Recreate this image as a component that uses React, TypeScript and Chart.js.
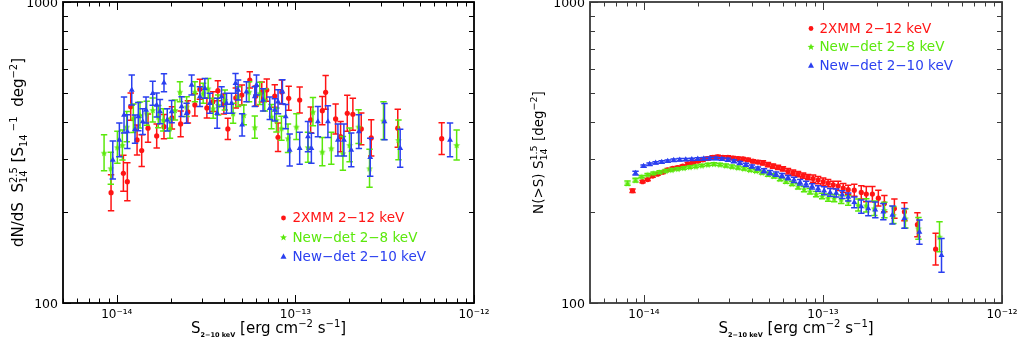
import React, { useEffect, useRef } from 'react';
import { Chart, registerables } from 'chart.js';

Chart.register(...registerables);

// ---------------- axes ----------------
const xMin = 5e-15;
const xMax = 1e-12;
const yMin = 100;
const yMax = 1000;
const xTickValues = [1e-14, 1e-13, 1e-12];
const xTickLabels = ['10⁻¹⁴', '10⁻¹³', '10⁻¹²'];
const yTickValues = [100, 1000];
const yTickLabels = ['100', '1000'];
const seriesLabels = ['2XMM 2−12 keV', 'New−det 2−8 keV', 'New−det 2−10 keV'];
const fluxUnit = 1e-14; // flux arrays are in units of 1e-14 erg cm^-2 s^-1

// ---------------- left panel: dN/dS S^2.5 ----------------
const diffRedFlux = [0.929, 1.089, 1.146, 1.197, 1.299, 1.379, 1.496, 1.673, 1.838, 2.037, 2.278, 2.502, 2.737, 2.920, 3.195, 3.451, 3.681, 3.977, 4.186, 4.640, 5.012, 5.555, 6.002, 6.484, 6.915, 7.665, 7.996, 8.386, 9.175, 10.57, 12.18, 14.15, 14.77, 16.80, 17.91, 19.52, 20.98, 23.38, 26.58, 37.43, 65.92];
const diffRedValue = [232.5, 269.8, 252.9, 449.1, 348.1, 320.8, 380.8, 358.9, 385.4, 411.9, 393.5, 431.3, 454.9, 512.8, 444.6, 466.5, 507.3, 458.4, 378.8, 479.9, 490.9, 550.7, 487.2, 502.3, 510.0, 487.2, 355.4, 502.3, 478.8, 472.6, 405.7, 435.6, 501.2, 408.8, 357.0, 427.0, 423.7, 378.8, 353.5, 380.8, 351.6];
const diffRedErr = [0.06, 0.06, 0.063, 0.045, 0.05, 0.053, 0.047, 0.04, 0.04, 0.037, 0.043, 0.037, 0.037, 0.033, 0.033, 0.033, 0.033, 0.033, 0.035, 0.033, 0.033, 0.027, 0.033, 0.033, 0.037, 0.037, 0.047, 0.04, 0.04, 0.043, 0.043, 0.047, 0.056, 0.05, 0.05, 0.06, 0.053, 0.053, 0.06, 0.063, 0.053];

const diffGreenFlux = [0.849, 0.926, 1.008, 1.075, 1.137, 1.238, 1.349, 1.471, 1.589, 1.708, 1.821, 1.986, 2.117, 2.258, 2.461, 2.737, 3.046, 3.249, 3.465, 3.695, 4.027, 4.481, 4.779, 5.142, 5.505, 5.925, 6.320, 6.739, 7.346, 7.834, 8.353, 9.093, 10.13, 11.76, 12.54, 14.15, 15.89, 18.45, 20.11, 22.58, 26.01, 31.14, 37.77, 79.96];
const diffGreenValue = [315.7, 280.3, 329.2, 335.0, 385.4, 411.0, 421.5, 427.0, 437.9, 416.0, 405.7, 380.8, 437.9, 503.5, 449.1, 503.5, 497.4, 516.7, 443.6, 454.9, 472.6, 427.0, 484.7, 421.5, 503.5, 383.7, 497.4, 472.6, 416.0, 405.7, 380.8, 352.7, 385.4, 329.2, 432.2, 318.3, 326.7, 314.3, 335.0, 385.4, 280.3, 403.5, 348.1, 335.0];
const diffGreenErr = [0.06, 0.053, 0.053, 0.05, 0.05, 0.047, 0.043, 0.04, 0.04, 0.037, 0.037, 0.033, 0.033, 0.033, 0.033, 0.033, 0.033, 0.033, 0.033, 0.033, 0.033, 0.033, 0.033, 0.033, 0.033, 0.037, 0.037, 0.037, 0.04, 0.04, 0.04, 0.047, 0.043, 0.05, 0.047, 0.047, 0.053, 0.056, 0.056, 0.056, 0.063, 0.063, 0.066, 0.05];

const diffBlueFlux = [0.950, 1.034, 1.098, 1.146, 1.213, 1.265, 1.320, 1.398, 1.458, 1.589, 1.673, 1.746, 1.838, 1.917, 2.029, 2.307, 2.461, 2.624, 2.920, 3.113, 3.320, 3.648, 3.861, 4.116, 4.390, 4.622, 4.779, 5.031, 5.324, 5.925, 6.056, 6.594, 7.187, 7.665, 7.996, 8.462, 8.827, 9.293, 10.57, 11.76, 12.29, 13.37, 15.21, 17.30, 18.69, 20.55, 22.67, 26.24, 31.55, 38.61, 73.44];
const diffBlueValue = [298.6, 348.1, 421.5, 371.0, 510.0, 377.9, 416.0, 400.4, 437.9, 497.4, 454.9, 432.2, 539.3, 405.7, 432.2, 449.1, 427.0, 529.9, 484.7, 516.7, 460.9, 427.0, 484.7, 460.9, 460.9, 536.8, 510.0, 390.5, 503.5, 484.7, 529.9, 472.6, 443.6, 437.9, 466.5, 503.5, 416.0, 322.5, 326.7, 357.0, 326.7, 400.4, 400.4, 348.1, 348.1, 322.5, 371.0, 304.8, 400.4, 326.7, 348.1];
const diffBlueErr = [0.063, 0.056, 0.06, 0.056, 0.05, 0.047, 0.047, 0.043, 0.043, 0.04, 0.04, 0.04, 0.03, 0.037, 0.037, 0.033, 0.033, 0.033, 0.033, 0.033, 0.033, 0.05, 0.033, 0.033, 0.033, 0.033, 0.033, 0.037, 0.033, 0.033, 0.033, 0.037, 0.037, 0.037, 0.04, 0.04, 0.04, 0.053, 0.053, 0.05, 0.05, 0.05, 0.053, 0.053, 0.053, 0.056, 0.056, 0.063, 0.06, 0.063, 0.056];

// ---------------- right panel: N(>S) S^1.5 ----------------
const cumRedFlux = [0.864, 0.983, 1.049, 1.119, 1.193, 1.273, 1.358, 1.448, 1.545, 1.648, 1.757, 1.875, 2.000, 2.133, 2.275, 2.427, 2.588, 2.761, 2.945, 3.141, 3.350, 3.573, 3.811, 4.064, 4.335, 4.624, 4.932, 5.260, 5.61, 5.98, 6.38, 6.81, 7.26, 7.75, 8.26, 8.81, 9.40, 10.03, 10.69, 11.41, 12.17, 12.98, 13.84, 14.96, 16.37, 17.46, 18.88, 20.39, 22.03, 25.06, 28.51, 33.7, 42.6];
const cumRedValue = [236, 253, 257, 264, 268, 272, 277, 280, 282, 285, 290, 293, 296, 299, 302, 305, 306, 305, 305, 303, 302, 301, 299, 296, 294, 292, 288, 285, 282, 279, 274, 271, 268, 265, 262, 259, 256, 253, 250, 247, 245, 241, 238, 237, 233, 230, 230, 223, 214, 206, 201, 182, 151];
const cumRedErr = [0.006, 0.004, 0.004, 0.004, 0.004, 0.004, 0.004, 0.004, 0.004, 0.004, 0.004, 0.004, 0.004, 0.004, 0.005, 0.005, 0.005, 0.005, 0.005, 0.005, 0.005, 0.005, 0.005, 0.005, 0.005, 0.007, 0.007, 0.007, 0.007, 0.007, 0.009, 0.009, 0.009, 0.009, 0.009, 0.012, 0.012, 0.012, 0.012, 0.012, 0.015, 0.015, 0.015, 0.02, 0.022, 0.025, 0.025, 0.026, 0.027, 0.032, 0.03, 0.04, 0.053];

const cumGreenFlux = [0.810, 0.898, 0.971, 1.049, 1.133, 1.224, 1.323, 1.429, 1.545, 1.669, 1.803, 1.948, 2.105, 2.275, 2.458, 2.656, 2.869, 3.100, 3.350, 3.618, 3.910, 4.225, 4.564, 4.932, 5.328, 5.757, 6.220, 6.721, 7.262, 7.846, 8.477, 9.160, 9.897, 10.69, 11.55, 12.65, 13.84, 15.75, 17.46, 19.36, 22.03, 24.74, 28.87, 34.15, 44.77];
const cumGreenValue = [250, 256, 263, 267, 270, 272.5, 275, 277, 279, 281, 283, 284.5, 286.5, 288.5, 289.6, 288.5, 286.5, 284, 282, 280, 277, 275, 271.5, 268, 264.5, 259, 254, 249.5, 244, 239, 235, 230, 226.7, 224, 223, 221, 219, 211.7, 211, 206.4, 203.7, 196, 191, 177, 166];
const cumGreenErr = [0.007, 0.006, 0.004, 0.004, 0.004, 0.004, 0.004, 0.004, 0.004, 0.004, 0.004, 0.004, 0.004, 0.004, 0.004, 0.004, 0.005, 0.005, 0.005, 0.005, 0.005, 0.005, 0.005, 0.007, 0.007, 0.007, 0.007, 0.007, 0.009, 0.009, 0.009, 0.009, 0.009, 0.012, 0.012, 0.014, 0.016, 0.02, 0.022, 0.024, 0.026, 0.028, 0.032, 0.036, 0.05];

const cumBlueFlux = [0.898, 0.996, 1.076, 1.163, 1.257, 1.358, 1.467, 1.585, 1.713, 1.851, 2.000, 2.160, 2.334, 2.522, 2.725, 2.945, 3.182, 3.437, 3.713, 4.012, 4.335, 4.684, 5.061, 5.468, 5.907, 6.383, 6.897, 7.452, 8.052, 8.700, 9.400, 10.16, 10.97, 11.86, 12.81, 13.84, 14.96, 16.37, 17.92, 19.61, 21.74, 24.42, 28.51, 34.59, 45.94];
const cumBlueValue = [270, 285, 289, 292, 294, 296, 298, 299, 299.5, 300, 301, 301.5, 302, 302, 301, 299, 296, 292, 288, 284, 280, 275, 271, 268, 265, 261, 256.5, 252, 248.5, 244, 240, 236, 233, 232, 229, 225, 216, 209, 206, 204, 201, 196, 191, 172, 144];
const cumBlueErr = [0.006, 0.004, 0.004, 0.004, 0.004, 0.004, 0.004, 0.004, 0.004, 0.004, 0.004, 0.004, 0.004, 0.004, 0.004, 0.005, 0.005, 0.005, 0.005, 0.005, 0.005, 0.007, 0.007, 0.007, 0.007, 0.007, 0.009, 0.009, 0.009, 0.009, 0.009, 0.013, 0.013, 0.013, 0.013, 0.013, 0.018, 0.022, 0.024, 0.026, 0.027, 0.03, 0.033, 0.04, 0.056];

// ---------------- styles ----------------
const RED = '#ff1414';
const GREEN = '#5be80c';
const BLUE = '#2a3ff0';
const FAMILY = '"DejaVu Sans"';
const TITLE_FONT = `15px ${FAMILY}`;
const RTITLE_FONT = `13.5px ${FAMILY}`;
const SMALL_FONT = `10px ${FAMILY}`;
const RSMALL_FONT = `9.5px ${FAMILY}`;
const SUB_BOLD = `bold 6.5px ${FAMILY}`;
const LEGEND_FONT = `13.5px ${FAMILY}`;

type Piece = { text: string; font: string; dy: number };
type Seg = Piece | { stack: Piece[] };

const xTitleSegs: Seg[] = [
  { text: 'S', font: TITLE_FONT, dy: 0 },
  { text: '2−10 keV', font: SUB_BOLD, dy: 4 },
  { text: ' [erg cm', font: TITLE_FONT, dy: 0 },
  { text: '−2', font: SMALL_FONT, dy: -6 },
  { text: ' s', font: TITLE_FONT, dy: 0 },
  { text: '−1', font: SMALL_FONT, dy: -6 },
  { text: ']', font: TITLE_FONT, dy: 0 },
];
const leftYTitle: Seg[] = [
  { text: 'dN/dS  S', font: TITLE_FONT, dy: 0 },
  { stack: [{ text: '2.5', font: SMALL_FONT, dy: -6 }, { text: '14', font: SMALL_FONT, dy: 4 }] },
  { text: ' [S', font: TITLE_FONT, dy: 0 },
  { text: '14', font: SMALL_FONT, dy: 4 },
  { text: ' −1', font: SMALL_FONT, dy: -6 },
  { text: '  deg', font: TITLE_FONT, dy: 0 },
  { text: '−2', font: SMALL_FONT, dy: -6 },
  { text: ']', font: TITLE_FONT, dy: 0 },
];
const rightYTitle: Seg[] = [
  { text: 'N(>S) S', font: RTITLE_FONT, dy: 0 },
  { stack: [{ text: '1.5', font: RSMALL_FONT, dy: -6 }, { text: '14', font: RSMALL_FONT, dy: 4 }] },
  { text: ' [deg', font: RTITLE_FONT, dy: 0 },
  { text: '−2', font: RSMALL_FONT, dy: -6 },
  { text: ']', font: RTITLE_FONT, dy: 0 },
];

function richWidth(ctx: CanvasRenderingContext2D, segs: Seg[]) {
  let w = 0;
  for (const s of segs) {
    if ('stack' in s) {
      w += Math.max(...s.stack.map((p) => { ctx.font = p.font; return ctx.measureText(p.text).width; }));
    } else {
      ctx.font = s.font;
      w += ctx.measureText(s.text).width;
    }
  }
  return w;
}
function drawRich(ctx: CanvasRenderingContext2D, segs: Seg[], x0: number, y0: number) {
  let x = x0;
  for (const s of segs) {
    if ('stack' in s) {
      let m = 0;
      for (const p of s.stack) {
        ctx.font = p.font;
        ctx.fillText(p.text, x, y0 + p.dy);
        m = Math.max(m, ctx.measureText(p.text).width);
      }
      x += m;
    } else {
      ctx.font = s.font;
      ctx.fillText(s.text, x, y0 + s.dy);
      x += ctx.measureText(s.text).width;
    }
  }
}

function starPath(g: CanvasRenderingContext2D, cx: number, cy: number, R: number, r: number) {
  g.beginPath();
  for (let i = 0; i < 10; i++) {
    const ang = -Math.PI / 2 + (i * Math.PI) / 5;
    const rad = i % 2 === 0 ? R : r;
    const px = cx + rad * Math.cos(ang);
    const py = cy + rad * Math.sin(ang);
    if (i === 0) g.moveTo(px, py); else g.lineTo(px, py);
  }
  g.closePath();
}
function makeStar(color: string, R: number) {
  const c = document.createElement('canvas');
  const s = Math.ceil(R * 2 + 2);
  c.width = s; c.height = s;
  const g = c.getContext('2d')!;
  starPath(g, s / 2, s / 2 + 0.5, R, R * 0.45);
  g.fillStyle = color;
  g.fill();
  return c;
}

function drawMarker(ctx: CanvasRenderingContext2D, kind: string, x: number, y: number, color: string) {
  ctx.fillStyle = color;
  if (kind === 'circle') {
    ctx.beginPath(); ctx.arc(x, y, 2.4, 0, Math.PI * 2); ctx.fill();
  } else if (kind === 'star') {
    starPath(ctx, x, y, 3.6, 1.6); ctx.fill();
  } else {
    ctx.beginPath(); ctx.moveTo(x, y - 3.2); ctx.lineTo(x + 3, y + 2.2); ctx.lineTo(x - 3, y + 2.2); ctx.closePath(); ctx.fill();
  }
}

function logMarks(min: number, max: number) {
  const out: { v: number; major: boolean }[] = [];
  for (let e = Math.floor(Math.log10(min)); e <= Math.ceil(Math.log10(max)); e++) {
    for (let m = 1; m <= 9; m++) {
      const v = m * Math.pow(10, e);
      if (v >= min * 0.9999 && v <= max * 1.0001) out.push({ v, major: m === 1 });
    }
  }
  return out;
}

type PanelCfg = {
  yTitle: Seg[];
  yTitleX: number;
  frameColor: string;
  frameWidth: number;
  legendMarkerX: number;
  legendTextX: number;
  legendYs: number[];
  yAxisWidth: number;
  padRight: number;
  flux: number[][];
  values: number[][];
  errs: number[][];
};

function makeErrorBars(errs: number[][], colors: string[]) {
  return {
    id: 'errbars',
    beforeDatasetDraw(chart: any, args: any) {
      const idx = args.index;
      const ds = chart.data.datasets[idx];
      const e = errs[idx];
      const ys = chart.scales.y;
      const ctx = chart.ctx as CanvasRenderingContext2D;
      ctx.save();
      ctx.strokeStyle = colors[idx];
      ctx.lineWidth = 1.5;
      ctx.beginPath();
      args.meta.data.forEach((pt: any, i: number) => {
        const v = ds.data[i].y;
        const yl = ys.getPixelForValue(v * Math.pow(10, -e[i]));
        const yh = ys.getPixelForValue(v * Math.pow(10, e[i]));
        const x = pt.x;
        ctx.moveTo(x, yl); ctx.lineTo(x, yh);
        ctx.moveTo(x - 3.2, yl); ctx.lineTo(x + 3.2, yl);
        ctx.moveTo(x - 3.2, yh); ctx.lineTo(x + 3.2, yh);
      });
      ctx.stroke();
      ctx.restore();
    },
  };
}

function makeDecor(p: PanelCfg, colors: string[], kinds: string[]) {
  return {
    id: 'decor',
    afterDraw(chart: any) {
      const ctx = chart.ctx as CanvasRenderingContext2D;
      const a = chart.chartArea;
      const xs = chart.scales.x;
      const ys = chart.scales.y;
      ctx.save();
      // inward tick marks on all four sides
      ctx.strokeStyle = p.frameColor;
      ctx.lineWidth = 1;
      ctx.beginPath();
      for (const t of logMarks(xs.min, xs.max)) {
        const px = Math.round(xs.getPixelForValue(t.v)) + 0.5;
        const len = t.major ? 8 : 4.5;
        ctx.moveTo(px, a.bottom); ctx.lineTo(px, a.bottom - len);
        ctx.moveTo(px, a.top); ctx.lineTo(px, a.top + len);
      }
      for (const t of logMarks(ys.min, ys.max)) {
        const py = Math.round(ys.getPixelForValue(t.v)) + 0.5;
        const len = t.major ? 8 : 5;
        ctx.moveTo(a.left, py); ctx.lineTo(a.left + len, py);
        ctx.moveTo(a.right, py); ctx.lineTo(a.right - len, py);
      }
      ctx.stroke();
      // frame
      ctx.lineWidth = p.frameWidth;
      ctx.strokeRect(a.left, a.top, a.right - a.left, a.bottom - a.top);
      // titles
      ctx.fillStyle = '#000';
      ctx.textBaseline = 'alphabetic';
      ctx.textAlign = 'left';
      const xw = richWidth(ctx, xTitleSegs);
      drawRich(ctx, xTitleSegs, (a.left + a.right) / 2 - xw / 2, 333);
      ctx.save();
      ctx.translate(p.yTitleX, (a.top + a.bottom) / 2);
      ctx.rotate(-Math.PI / 2);
      const yw = richWidth(ctx, p.yTitle);
      drawRich(ctx, p.yTitle, -yw / 2, 0);
      ctx.restore();
      // legend
      ctx.font = LEGEND_FONT;
      ctx.textBaseline = 'middle';
      seriesLabels.forEach((lab, i) => {
        const y = p.legendYs[i];
        drawMarker(ctx, kinds[i], p.legendMarkerX, y, colors[i]);
        ctx.fillStyle = colors[i];
        ctx.fillText(lab, p.legendTextX, y + 0.5);
      });
      ctx.restore();
    },
  };
}

function buildConfig(p: PanelCfg, star: HTMLCanvasElement) {
  const colors = [RED, GREEN, BLUE];
  const kinds = ['circle', 'star', 'triangle'];
  const styles: any[] = ['circle', star, 'triangle'];
  const radii = [2.6, 3.5, 3.4];
  const datasets = [0, 1, 2].map((k) => ({
    label: seriesLabels[k],
    data: p.flux[k].map((s, i) => ({ x: s * fluxUnit, y: p.values[k][i] })),
    pointStyle: styles[k],
    pointRadius: radii[k],
    pointBackgroundColor: colors[k],
    pointBorderColor: colors[k],
    pointBorderWidth: 0,
    showLine: false,
    order: 3 - k,
  }));
  return {
    type: 'scatter' as const,
    data: { datasets },
    options: {
      responsive: false,
      animation: false as const,
      devicePixelRatio: 1,
      events: [],
      layout: { padding: { left: 0, right: p.padRight, top: 2, bottom: 0 }, autoPadding: false },
      plugins: { legend: { display: false }, tooltip: { enabled: false } },
      scales: {
        x: {
          type: 'logarithmic' as const,
          position: 'bottom' as const,
          min: xMin,
          max: xMax,
          grid: { display: false, drawTicks: false },
          border: { display: false },
          afterBuildTicks: (s: any) => { s.ticks = xTickValues.map((v) => ({ value: v })); },
          afterFit: (s: any) => { s.height = 45; s.paddingLeft = 0; s.paddingRight = 0; },
          ticks: {
            autoSkip: false,
            maxRotation: 0,
            minRotation: 0,
            padding: 5,
            color: '#000',
            font: { family: 'DejaVu Sans', size: 12 },
            callback: (_v: any, i: number) => xTickLabels[i],
          },
        },
        y: {
          type: 'logarithmic' as const,
          position: 'left' as const,
          min: yMin,
          max: yMax,
          grid: { display: false, drawTicks: false },
          border: { display: false },
          afterBuildTicks: (s: any) => { s.ticks = yTickValues.map((v) => ({ value: v })); },
          afterFit: (s: any) => { s.width = p.yAxisWidth; s.paddingTop = 0; s.paddingBottom = 0; },
          ticks: {
            padding: 5,
            labelOffset: 2,
            color: '#000',
            font: { family: 'DejaVu Sans', size: 12.5 },
            callback: (_v: any, i: number) => yTickLabels[i],
          },
        },
      },
    },
    plugins: [makeErrorBars(p.errs, colors), makeDecor(p, colors, kinds)],
  };
}

const leftPanel: PanelCfg = {
  yTitle: leftYTitle,
  yTitleX: 23,
  frameColor: '#000',
  frameWidth: 1.8,
  legendMarkerX: 283.5,
  legendTextX: 292.5,
  legendYs: [218, 237.5, 256.5],
  yAxisWidth: 63,
  padRight: 35,
  flux: [diffRedFlux, diffGreenFlux, diffBlueFlux],
  values: [diffRedValue, diffGreenValue, diffBlueValue],
  errs: [diffRedErr, diffGreenErr, diffBlueErr],
};
const rightPanel: PanelCfg = {
  yTitle: rightYTitle,
  yTitleX: 34,
  frameColor: '#3a3a3a',
  frameWidth: 1.8,
  legendMarkerX: 302,
  legendTextX: 310.5,
  legendYs: [28.5, 47, 65.5],
  yAxisWidth: 81,
  padRight: 16,
  flux: [cumRedFlux, cumGreenFlux, cumBlueFlux],
  values: [cumRedValue, cumGreenValue, cumBlueValue],
  errs: [cumRedErr, cumGreenErr, cumBlueErr],
};

export default function App() {
  const leftRef = useRef<HTMLCanvasElement>(null);
  const rightRef = useRef<HTMLCanvasElement>(null);
  useEffect(() => {
    const star = makeStar(GREEN, 3.6);
    const c1 = new Chart(leftRef.current!, buildConfig(leftPanel, star) as any);
    const c2 = new Chart(rightRef.current!, buildConfig(rightPanel, star) as any);
    return () => { c1.destroy(); c2.destroy(); };
  }, []);
  return (
    <div style={{ position: 'absolute', left: 0, top: 0, width: 1018, height: 348, background: '#fff' }}>
      <canvas ref={leftRef} width={509} height={348} style={{ position: 'absolute', left: 0, top: 0, width: 509, height: 348 }} />
      <canvas ref={rightRef} width={509} height={348} style={{ position: 'absolute', left: 509, top: 0, width: 509, height: 348 }} />
    </div>
  );
}
